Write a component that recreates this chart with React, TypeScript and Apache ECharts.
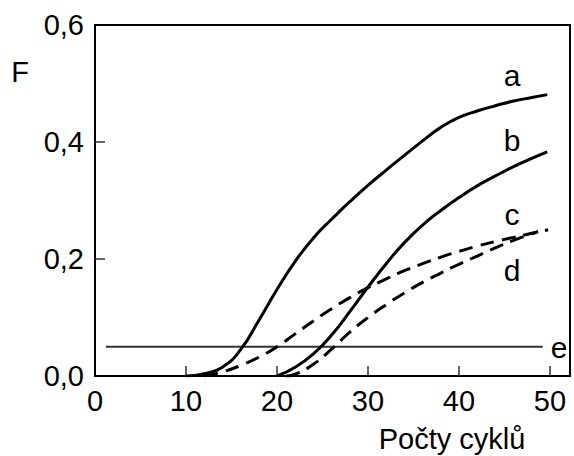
import React, { useEffect, useRef } from "react";
import * as echarts from "echarts";

const xTickValues = [10, 20, 30, 40, 50];
const xLabelValues = [0, 10, 20, 30, 40, 50];
const yLabelValues = [0, 0.2, 0.4, 0.6];

const curveA: number[][] = [[10, 0], [12, 0.004], [14, 0.015], [16, 0.045], [18, 0.095], [20, 0.148], [22, 0.196], [24, 0.236], [26, 0.268], [28, 0.298], [30, 0.326], [32, 0.352], [34, 0.377], [36, 0.402], [38, 0.425], [40, 0.442], [42, 0.453], [44, 0.462], [46, 0.47], [48, 0.476], [49.7, 0.481]];
const curveB: number[][] = [[20, 0], [22, 0.015], [24, 0.038], [26, 0.07], [28, 0.11], [30, 0.152], [32, 0.192], [34, 0.228], [36, 0.258], [38, 0.283], [40, 0.305], [42, 0.325], [44, 0.342], [46, 0.358], [48, 0.372], [49.7, 0.383]];
const curveC: number[][] = [[12, 0], [14, 0.007], [16, 0.018], [18, 0.032], [20, 0.05], [22, 0.072], [24, 0.094], [26, 0.115], [28, 0.134], [30, 0.151], [32, 0.166], [34, 0.18], [36, 0.192], [38, 0.203], [40, 0.213], [42, 0.222], [44, 0.23], [46, 0.237], [48, 0.244], [49.8, 0.25]];
const curveD: number[][] = [[21, 0], [22, 0.003], [24, 0.02], [26, 0.046], [28, 0.075], [30, 0.1], [32, 0.122], [34, 0.142], [36, 0.16], [38, 0.176], [40, 0.191], [42, 0.205], [44, 0.219], [46, 0.232], [48, 0.243], [48.7, 0.247]];
const lineE: number[][] = [[1.2, 0.05], [49.2, 0.05]];

const FONT = "'Liberation Sans', Arial, sans-serif";

export default function App() {
  const ref = useRef<HTMLDivElement>(null);
  useEffect(() => {
    if (!ref.current) return;
    const chart = echarts.init(ref.current, null, { renderer: "svg" });
    const curve = (data: number[][], dashed: boolean) => ({
      type: "line",
      data,
      smooth: 0.5,
      symbol: "none",
      lineStyle: { color: "#000", width: 3, type: dashed ? [14, 8] : "solid" },
      z: 3,
    });
    const letter = (t: string, x: number, y: number) => ({
      type: "text",
      x,
      y,
      style: { text: t, font: `30px ${FONT}`, fill: "#000", align: "center", verticalAlign: "middle" },
    });
    chart.setOption({
      animation: false,
      backgroundColor: "#fff",
      grid: { left: 95, top: 25, right: 4, bottom: 80, show: true, borderColor: "#000", borderWidth: 2 },
      xAxis: {
        type: "value",
        min: 0,
        max: 52.2,
        splitLine: { show: false },
        axisLine: { show: true, lineStyle: { color: "#000", width: 2 } },
        axisTick: { show: true, inside: true, length: 10, customValues: xTickValues, lineStyle: { color: "#333", width: 1.5 } },
        axisLabel: { customValues: xLabelValues, color: "#000", fontSize: 29, fontFamily: FONT, margin: 10 },
      },
      yAxis: {
        type: "value",
        min: 0,
        max: 0.6,
        interval: 0.2,
        splitLine: { show: false },
        axisLine: { show: true, lineStyle: { color: "#000", width: 2 } },
        axisTick: { show: true, inside: true, length: 10, customValues: [0.2, 0.4], lineStyle: { color: "#333", width: 1.5 } },
        axisLabel: {
          customValues: yLabelValues,
          color: "#000",
          fontSize: 29,
          fontFamily: FONT,
          margin: 11,
          formatter: (v: number) => v.toFixed(1).replace(".", ","),
        },
      },
      graphic: [
        { type: "text", x: 20, y: 72, style: { text: "F", font: `29px ${FONT}`, fill: "#000", align: "center", verticalAlign: "middle" } },
        { type: "text", x: 452, y: 439, style: { text: "Počty cyklů", font: `29px ${FONT}`, fill: "#000", align: "center", verticalAlign: "middle" } },
        letter("a", 512, 75),
        letter("b", 512, 140),
        letter("c", 512, 214),
        letter("d", 512, 270),
        letter("e", 559, 347),
      ],
      series: [
        curve(curveA, false),
        curve(curveB, false),
        curve(curveC, true),
        curve(curveD, true),
        { type: "line", data: lineE, symbol: "none", lineStyle: { color: "#333", width: 2 }, z: 2 },
      ],
    });
    return () => chart.dispose();
  }, []);
  return <div ref={ref} style={{ width: 574, height: 456, position: "absolute", left: 0, top: 0 }} />;
}
